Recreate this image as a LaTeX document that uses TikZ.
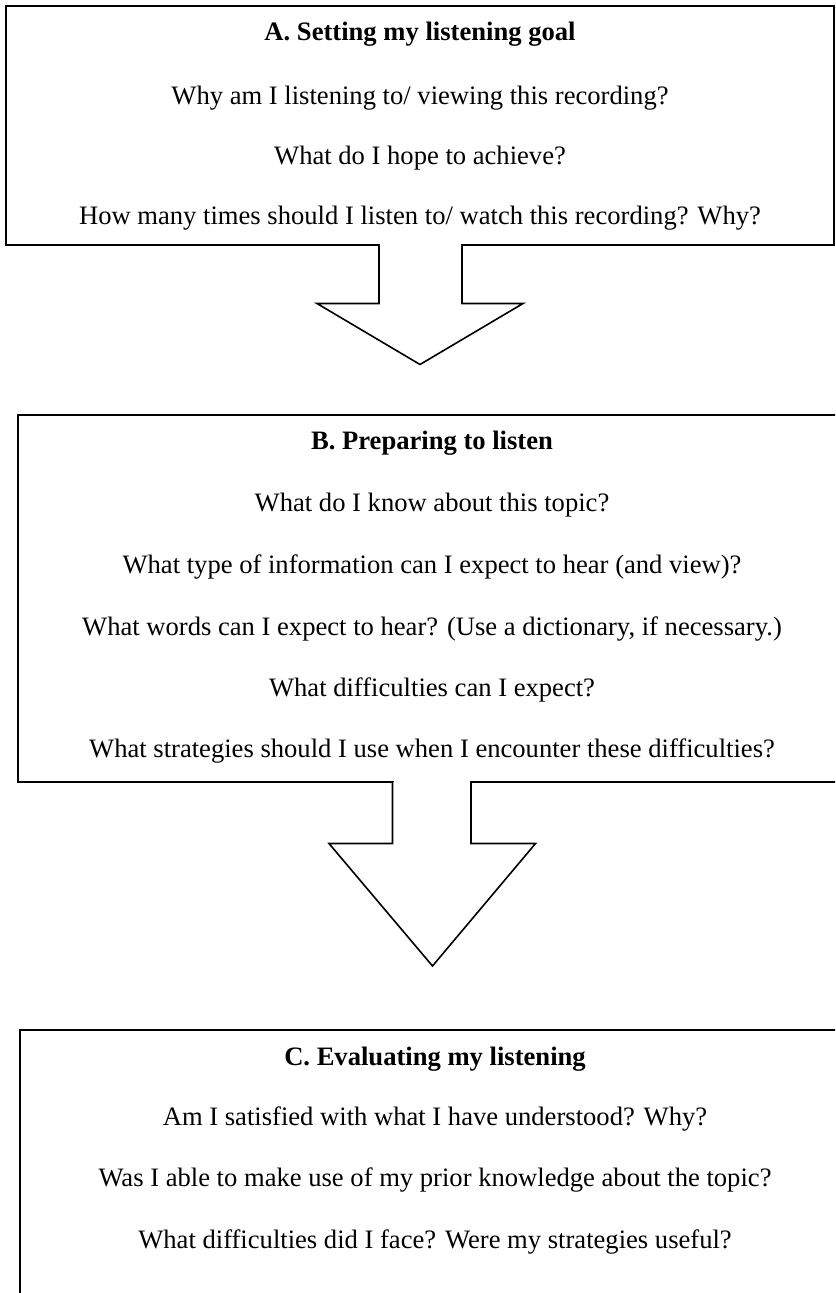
\documentclass[tikz,border=0pt]{standalone}
\usepackage{fontspec}
\setmainfont{Liberation Serif}
\begin{document}
\begin{tikzpicture}[x=0.5pt,y=-0.5pt,
  box/.style={draw=black, line width=1pt},
  arr/.style={draw=black, line width=0.8pt, line join=miter, fill=white},
  q/.style={anchor=base, inner sep=0pt, font=\fontsize{13.3}{16}\selectfont},
  ttl/.style={anchor=base, inner sep=0pt, font=\fontsize{13.3}{16}\selectfont\bfseries}]
\useasboundingbox (0,0) rectangle (835,1293);
\clip (0,0) rectangle (835,1293);
% boxes
\draw[box] (6,6) rectangle (833.5,245.5);
\draw[box] (17.5,415) rectangle (850,782);
\draw[box] (19.5,1029.5) rectangle (855,1330);
% arrow 1
\fill[white] (380,243) rectangle (461,248);
\draw[arr] (379,245.5) -- (379,303.5) -- (317,303.5) -- (420,364.5) -- (523,303.5) -- (462,303.5) -- (462,245.5);
% arrow 2
\fill[white] (393.5,780) rectangle (470,784);
\draw[arr] (392.5,782) -- (392.5,843.5) -- (329,843.5) -- (432.5,966) -- (535.5,843.5) -- (471,843.5) -- (471,782);
% box A text
\node[ttl] (at) at (420,41) {A. Setting my listening goal};
\node[q] (a1) at (420,105) {Why am I listening to/ viewing this recording?};
\node[q] (a2) at (420,165) {What do I hope to achieve?};
\node[q] (a3) at (420,225) {How many times should I listen to/ watch this recording? Why?};
% box B text
\node[ttl] (bt) at (432,450) {B. Preparing to listen};
\node[q] (b1) at (432,511) {What do I know about this topic?};
\node[q] (b2) at (432,573) {What type of information can I expect to hear (and view)?};
\node[q] (b3) at (432,635) {What words can I expect to hear? (Use a dictionary, if necessary.)};
\node[q] (b4) at (432,696) {What difficulties can I expect?};
\node[q] (b5) at (432,757) {What strategies should I use when I encounter these difficulties?};
% box C text
\node[ttl] (ct) at (435,1065) {C. Evaluating my listening};
\node[q] (c1) at (435,1125) {Am I satisfied with what I have understood? Why?};
\node[q] (c2) at (435,1186) {Was I able to make use of my prior knowledge about the topic?};
\node[q] (c3) at (435,1248) {What difficulties did I face? Were my strategies useful?};
\end{tikzpicture}
\end{document}
